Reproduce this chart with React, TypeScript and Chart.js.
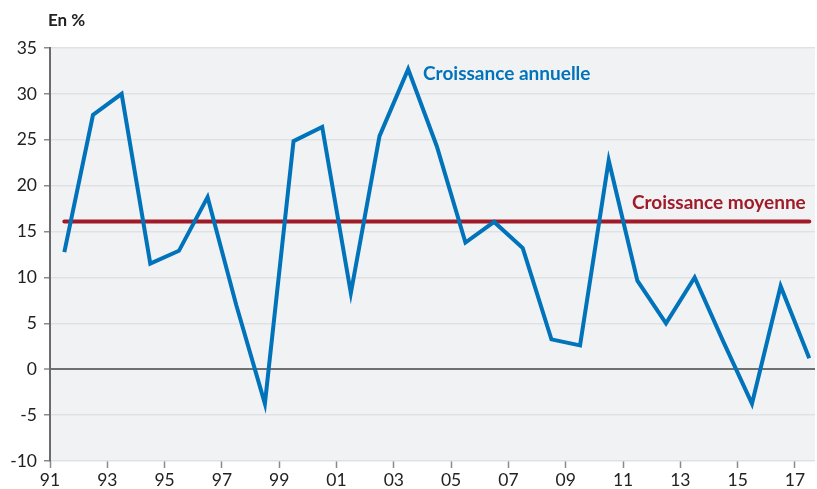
import React, { useEffect, useRef } from "react";
import { Chart, registerables } from "chart.js";

Chart.register(...registerables);

// Data
const years: number[] = [
  1991, 1992, 1993, 1994, 1995, 1996, 1997, 1998, 1999, 2000, 2001, 2002, 2003, 2004,
  2005, 2006, 2007, 2008, 2009, 2010, 2011, 2012, 2013, 2014, 2015, 2016, 2017,
];
const annualGrowth: number[] = [
  12.75, 27.7, 30.0, 11.5, 12.9, 18.75, 7.0, -3.75, 24.85, 26.4, 8.3, 25.4, 32.7, 24.3,
  13.8, 16.05, 13.2, 3.25, 2.6, 22.75, 9.65, 5.0, 10.0, 3.0, -3.75, 9.05, 1.2,
];
const averageGrowth = 16.1;
const xTickYears: number[] = [1991, 1993, 1995, 1997, 1999, 2001, 2003, 2005, 2007, 2009, 2011, 2013, 2015, 2017];
const yTickValues: number[] = [-10, -5, 0, 5, 10, 15, 20, 25, 30, 35];
const unitLabel = "En %";
const annualLabel = "Croissance annuelle";
const averageLabel = "Croissance moyenne";

const FONT = "Lato, 'Open Sans', 'DejaVu Sans', sans-serif";
const BLUE = "#0073bb";
const RED = "#a01b27";

export default function App() {
  const ref = useRef<HTMLCanvasElement | null>(null);

  useEffect(() => {
    if (!ref.current) return;
    const midYear = (y: number) => y + 0.5;

    const bgPlugin = {
      id: "plotBg",
      beforeDraw(chart: any) {
        const { ctx, chartArea } = chart;
        ctx.save();
        ctx.fillStyle = "#ffffff";
        ctx.fillRect(0, 0, chart.width, chart.height);
        ctx.fillStyle = "#f1f2f4";
        ctx.fillRect(chartArea.left, chartArea.top, chartArea.right - chartArea.left, chartArea.bottom - chartArea.top);
        ctx.restore();
      },
    };

    const textPlugin = {
      id: "annotations",
      afterDatasetsDraw(chart: any) {
        const { ctx, scales } = chart;
        const xs = scales.x;
        const ys = scales.y;
        ctx.save();
        ctx.textBaseline = "middle";
        ctx.textAlign = "left";
        ctx.font = `bold 19px ${FONT}`;
        ctx.fillStyle = BLUE;
        ctx.fillText(annualLabel, xs.getPixelForValue(2004.02), ys.getPixelForValue(32.2));
        ctx.fillStyle = RED;
        ctx.fillText(averageLabel, xs.getPixelForValue(2011.31), ys.getPixelForValue(18.1));
        ctx.font = `bold 17px ${FONT}`;
        ctx.fillStyle = "#222222";
        ctx.fillText(unitLabel, 48, 21);
        ctx.restore();
      },
    };

    const chart = new Chart(ref.current, {
      type: "line",
      data: {
        datasets: [
          {
            label: averageLabel,
            data: years.map((y) => ({ x: midYear(y), y: averageGrowth })),
            borderColor: RED,
            borderWidth: 4,
            borderCapStyle: "round",
            pointRadius: 0,
            fill: false,
            order: 2,
          },
          {
            label: annualLabel,
            data: years.map((y, i) => ({ x: midYear(y), y: annualGrowth[i] })),
            borderColor: BLUE,
            borderWidth: 4,
            borderJoinStyle: "miter",
            pointRadius: 0,
            tension: 0,
            fill: false,
            order: 1,
          },
        ],
      },
      options: {
        animation: false,
        responsive: false,
        maintainAspectRatio: false,
        layout: { padding: { top: 48, right: 2, bottom: 0, left: 0 } },
        plugins: {
          legend: { display: false },
          tooltip: { enabled: false },
          title: { display: false },
        },
        scales: {
          x: {
            type: "linear",
            min: 1991,
            max: 2017.7,
            afterBuildTicks(scale: any) {
              scale.ticks = xTickYears.map((v) => ({ value: v }));
            },
            afterFit(scale: any) {
              scale.height = 28;
            },
            ticks: {
              autoSkip: false,
              maxRotation: 0,
              padding: 2,
              color: "#222222",
              font: { family: FONT, size: 17.5 },
              callback: (v: any) => String(Number(v) % 100).padStart(2, "0"),
            },
            grid: {
              drawOnChartArea: false,
              drawTicks: true,
              tickLength: 7,
              tickColor: "#8a8a8a",
              tickWidth: 1.5,
            },
            border: { display: false },
          },
          y: {
            min: -10,
            max: 35,
            afterBuildTicks(scale: any) {
              scale.ticks = yTickValues.map((v) => ({ value: v }));
            },
            afterFit(scale: any) {
              scale.width = 50;
            },
            ticks: {
              padding: 7,
              color: "#222222",
              font: { family: FONT, size: 17.5 },
            },
            grid: {
              color: (c: any) => (c.tick && c.tick.value === 0 ? "#707070" : "#e0e1e4"),
              lineWidth: (c: any) => (c.tick && c.tick.value === 0 ? 2 : 1.5),
              tickLength: 6,
              tickColor: "#8a8a8a",
              tickWidth: 1.5,
            },
            border: { display: true, color: "#6b6b6b", width: 2 },
          },
        },
      },
      plugins: [bgPlugin, textPlugin],
    } as any);

    return () => chart.destroy();
  }, []);

  return (
    <div style={{ position: "fixed", left: 0, top: 0, width: 817, height: 489, background: "#fff" }}>
      <canvas ref={ref} width={817} height={489} style={{ display: "block", width: 817, height: 489 }} />
    </div>
  );
}
